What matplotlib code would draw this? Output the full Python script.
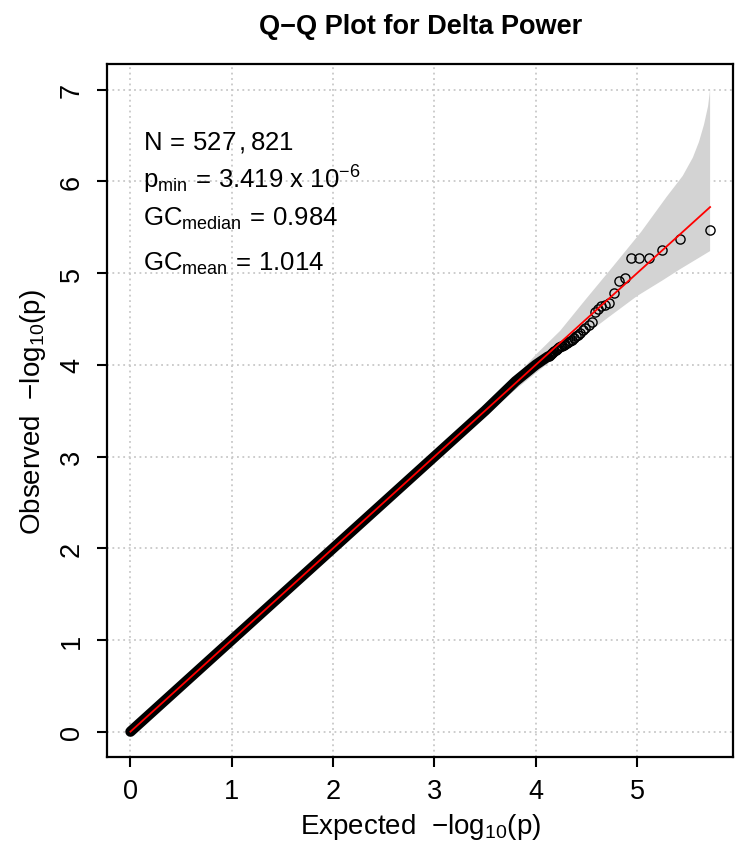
"""Q-Q plot for Delta Power GWAS p-values."""
import matplotlib
matplotlib.use('Agg')
import matplotlib.pyplot as plt

plt.rcParams['font.family'] = ['Liberation Sans', 'DejaVu Sans']
plt.rcParams['mathtext.fontset'] = 'custom'
plt.rcParams['mathtext.rm'] = 'Liberation Sans'
plt.rcParams['mathtext.it'] = 'Liberation Sans:italic'
plt.rcParams['mathtext.bf'] = 'Liberation Sans:bold'

# bulk of the points (drawn as a dense band), expected vs observed -log10(p)
exp_bulk = [0.0, 1.0, 2.0, 3.0, 3.5, 3.8, 4.0, 4.12]
obs_bulk = [0.0, 1.0, 2.0, 3.0, 3.5, 3.82, 4.0, 4.09]

# individual points in the tail
exp_tail = [5.72, 5.42, 5.25, 5.12, 5.02, 4.94, 4.88, 4.82, 4.77, 4.72,
            4.68, 4.64, 4.61, 4.58, 4.55, 4.52, 4.49, 4.47, 4.44, 4.42,
            4.40, 4.38, 4.36, 4.34, 4.32, 4.31, 4.29, 4.28, 4.26, 4.25,
            4.23, 4.22, 4.21, 4.20, 4.18, 4.17, 4.16, 4.15, 4.14, 4.13]
obs_tail = [5.47, 5.37, 5.25, 5.16, 5.16, 5.16, 4.95, 4.91, 4.78, 4.67,
            4.65, 4.64, 4.61, 4.58, 4.47, 4.43, 4.40, 4.38, 4.35, 4.33,
            4.31, 4.29, 4.27, 4.26, 4.25, 4.24, 4.23, 4.22, 4.21, 4.20,
            4.19, 4.18, 4.17, 4.16, 4.15, 4.14, 4.13, 4.12, 4.11, 4.10]

# confidence band
ci_x_up = [0.0, 3.5, 3.8, 4.0, 4.24, 4.49, 4.76, 5.04, 5.29, 5.45, 5.55, 5.61, 5.66, 5.70, 5.72]
ci_up = [0.0, 3.55, 3.87, 4.11, 4.37, 4.71, 5.07, 5.45, 5.83, 6.06, 6.26, 6.43, 6.62, 6.82, 7.0]
ci_x_lo = [5.72, 5.42, 5.25, 5.0, 4.72, 4.42, 4.24, 4.0, 3.8, 3.5, 0.0]
ci_lo = [5.24, 5.04, 4.92, 4.75, 4.52, 4.27, 4.12, 3.91, 3.73, 3.45, 0.0]

x_max = 5.72
y_max = 7

labels = [
    r'$\mathregular{N\,=\,527\,,821}$',
    r'$\mathregular{p_{min}\,=\,3.419\ x\ 10^{-6}}$',
    r'$\mathregular{GC_{median}\,=\,0.984}$',
    r'$\mathregular{GC_{mean}\,=\,1.014}$',
]
label_y = [6.36, 5.93, 5.53, 5.04]

fig = plt.figure(figsize=(7.44, 8.53), dpi=100)
ax = fig.add_axes([0.1442, 0.1110, 0.8414, 0.8128])

ax.set_xlim(-0.04 * x_max, x_max * 1.04)
ax.set_ylim(-0.04 * y_max, y_max * 1.04)

ax.set_xticks(range(0, 6))
ax.set_yticks(range(0, 8))
ax.grid(True, color='#C8C8C8', linestyle=(0, (1, 2)), linewidth=1.3, zorder=0)
ax.set_axisbelow(True)

ax.fill(ci_x_up + ci_x_lo, ci_up + ci_lo, color='#D3D3D3', lw=0, zorder=1)

ax.plot(exp_bulk, obs_bulk, color='black', lw=7.5, solid_capstyle='round', zorder=2)
ax.plot(exp_tail, obs_tail, 'o', mfc='none', mec='black', ms=6.6, mew=1.0, zorder=3)
ax.plot([0, x_max], [0, x_max], color='red', lw=1.3, zorder=4)

for txt, yy in zip(labels, label_y):
    ax.text(0.12, yy, txt, fontsize=18.5, ha='left', va='baseline')

for sp in ax.spines.values():
    sp.set_linewidth(1.6)
ax.tick_params(direction='out', length=7, width=1.5, labelsize=19.5)
ax.tick_params(axis='x', pad=8)
ax.tick_params(axis='y', pad=9)
for lab in ax.get_yticklabels():
    lab.set_rotation(90)
    lab.set_va('center')

ax.set_xlabel(r'Expected  $\mathregular{-log_{10}(p)}$', fontsize=20, labelpad=5)
ax.set_ylabel(r'Observed  $\mathregular{-log_{10}(p)}$', fontsize=20, labelpad=8)

fig.text(0.5649, 0.968, 'Q\u2212Q Plot for Delta Power', fontsize=19.5,
         fontweight='bold', ha='center', va='center')

plt.savefig('out.png', dpi=100)
plt.close()
